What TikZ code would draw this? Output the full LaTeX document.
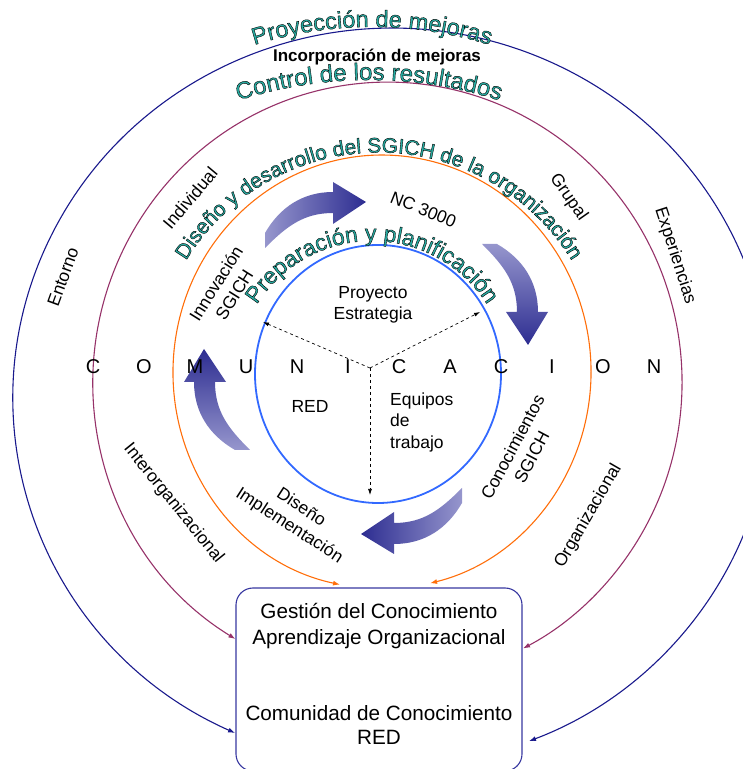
\documentclass[tikz,border=0pt]{standalone}
\usepackage{fontspec}
\setmainfont{Liberation Sans}
\usepackage{xcolor}
\usepackage{tikz}
\usetikzlibrary{arrows.meta, positioning, decorations.text}

\definecolor{navyring}{RGB}{25,25,140}
\definecolor{plumring}{RGB}{150,50,105}
\definecolor{orangering}{RGB}{255,110,10}
\definecolor{bluering}{RGB}{50,105,255}
\definecolor{boxedge}{RGB}{55,55,160}
\definecolor{arttext}{RGB}{40,172,162}
\definecolor{arrowdark}{RGB}{45,45,145}
\definecolor{arrowlight}{RGB}{150,150,205}

% teal letters with a thin black outline
\newcommand{\arttitle}[1]{\fontsize{#1}{#1}\selectfont\color{arttext}\special{pdf:code 2 Tr 0 G 0.4 w}}

\begin{document}
\begin{tikzpicture}[x=1pt, y=1pt, node distance=1cm]

    \useasboundingbox (0,0) rectangle (743,769);

    % Define styles
    \tikzstyle{ring} = [line width=1.1pt, {Latex[length=7pt,width=5pt]}-{Latex[length=7pt,width=5pt]}]
    \tikzstyle{spoke} = [dashed, line width=0.7pt, -{Latex[length=6pt,width=4pt]}]
    \tikzstyle{outerlbl} = [font=\fontsize{17.5}{21.5}\selectfont, align=center, inner sep=0pt]
    \tikzstyle{spelled} = [font=\fontsize{20}{20}\selectfont, inner sep=0pt]
    \tikzstyle{resultbox} = [rectangle, rounded corners=17pt, draw=boxedge, line width=1.1pt, minimum width=286pt, minimum height=183pt]
    \tikzstyle{resulttext} = [font=\fontsize{20.7}{26}\selectfont, align=center, inner sep=0pt]

    % Points
    \coordinate (ctr) at (378,395);
    \coordinate (hub) at (370,401);
    \coordinate (spokeA) at (263,447);
    \coordinate (spokeB) at (480,457);
    \coordinate (spokeC) at (370,274);
    \coordinate (orL) at (340,184.4);
    \coordinate (plL) at (235.4,130);
    \coordinate (nvL) at (235.1,36);

    % Rings
    \draw[bluering, line width=1.8pt] (ctr) ellipse [x radius=123, y radius=129];
    \draw[ring, orangering] (orL) arc [start angle=258.4, end angle=-76.7, x radius=209, y radius=217];
    \draw[ring, plumring] (plL) arc [start angle=238.9, end angle=-62.6, x radius=294.5, y radius=300];
    \draw[ring, navyring] (nvL) arc [start angle=245.55, end angle=-68.8, x radius=379, y radius=369];

    % Block arrows
    \foreach \r/\dx/\dy/\ang in {0/0/0/90, -90/-12/19/0, 180/-17/4/270, 90/0/27/180}
        \shade[left color=arrowlight, right color=arrowdark, shading angle=\ang,
               shift={(372+\dx,399+\dy)}, rotate=\r]
            (-107,137) .. controls (-92,163) and (-69,178) .. (-39,178) -- (-39,188) -- (-6,168)
            -- (-39,146) -- (-39,157) .. controls (-69,157) and (-86,143) .. (-107,122) -- cycle;

    % Spokes
    \draw[spoke] (hub) -- (spokeA);
    \draw[spoke] (hub) -- (spokeB);
    \draw[spoke] (hub) -- (spokeC);

    % Curved titles
    \path[decorate, decoration={text along path, text align=center,
        text={|\arttitle{23.5}|Proyección de mejoras}}]
        (119.7,650.2) arc [start angle=130, end angle=50, radius=392.5];
    \path[decorate, decoration={text along path, text align=center,
        text={|\arttitle{24}|Control de los resultados}}]
        (156,631.9) arc [start angle=120, end angle=60, radius=426];
    \path[decorate, decoration={text along path, text align=center,
        text={|\arttitle{21}|Diseño y desarrollo del SGICH de la organización}}]
        (156.4,429.7) arc [start angle=170, end angle=10, radius=226];
    \path[decorate, decoration={text along path, text align=center,
        text={|\arttitle{23}|Preparación y planificación}}]
        (238.1,415.6) arc [start angle=170, end angle=10, radius=136];
    \special{pdf:code 0 Tr}

    % Nodes
    \node (incorporacion) [font=\bfseries\fontsize{17}{17}\selectfont, inner sep=0pt] at (377,712) {Incorporación de mejoras};

    \node (entorno) [outerlbl, rotate=70] at (63,492) {Entorno};
    \node (individual) [outerlbl, rotate=50] at (190,571) {Individual};
    \node (grupal) [outerlbl, rotate=-55] at (568.5,571.5) {Grupal};
    \node (experiencias) [outerlbl, rotate=-72] at (675,513) {Experiencias};
    \node (interorg) [outerlbl, rotate=-51] at (173.5,265.5) {Interorganizacional};
    \node (organizacional) [outerlbl, rotate=60] at (588.5,253) {Organizacional};

    \node (innovacion) [outerlbl, rotate=58] at (225,480) {Innovación\\SGICH};
    \node (nc) [outerlbl, rotate=-22] at (423.5,559.5) {NC 3000};
    \node (conocimientos) [outerlbl, rotate=62] at (522,317) {Conocimientos\\SGICH};
    \node (disenoimpl) [outerlbl, rotate=-33] at (295,252) {Diseño\\Implementación};

    \node (proyecto) [outerlbl] at (373,464) {Proyecto\\Estrategia};
    \node (red) [outerlbl] at (310,363) {RED};
    \node (equipos) [outerlbl, align=left, anchor=west] at (390,347) {Equipos\\de\\trabajo};

    \foreach \ch [count=\i from 0] in {C,O,M,U,N,I,C,A,C,I,O,N}
        \node (com\i) [spelled] at (93+51*\i,402) {\ch};

    \node (result) [resultbox] at (379,89.5) {};
    \node (gestion) [resulttext, below=16pt of result.north] {Gestión del Conocimiento\\Aprendizaje Organizacional};
    \node (comunidad) [resulttext, font=\fontsize{20.7}{23.5}\selectfont, below=56pt of gestion] {Comunidad de Conocimiento\\RED};

\end{tikzpicture}
\end{document}
